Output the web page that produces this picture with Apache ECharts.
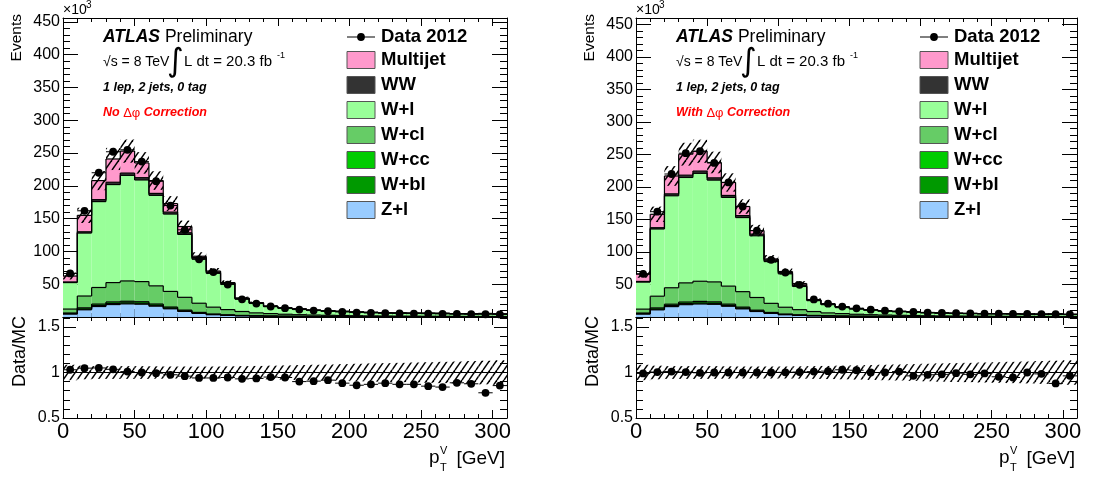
<!DOCTYPE html>
<html>
<head>
<meta charset="utf-8">
<script src="https://cdn.jsdelivr.net/npm/echarts@6/dist/echarts.min.js"></script>
<style>
  html, body { margin: 0; background: #fff; }
  #chart { width: 1094px; height: 477px; }
</style>
</head>
<body>
<div id="chart"></div>
<script>
// p_T^V distribution, 1 lep 2 jets 0 tag, before / after the delta-phi correction
// all event counts are in units of 10^3

const BIN_EDGES = [0, 10, 20, 30, 40, 50, 60, 70, 80, 90, 100, 110, 120, 130, 140, 150,
  160, 170, 180, 190, 200, 210, 220, 230, 240, 250, 260, 270, 280, 290, 300, 310];

const DATA_2012 = [66.4, 162, 220, 252, 255, 237, 207, 170, 133, 88, 68.5, 49.5, 27, 20.5, 16, 13.4,
  11.3, 9.8, 8.8, 7.8, 6.8, 6.3, 5.8, 5.5, 5.2, 5.0, 4.8, 4.6, 4.4, 4.2, 4.0];

// backgrounds shared by both plots
const Z_L = [4.5, 11, 16, 19, 20, 19.5, 16.5, 12.5, 8.5, 5.5, 3.5, 2.5, 1.8, 1.4, 1.1, 0.9,
  0.8, 0.7, 0.6, 0.5, 0.45, 0.4, 0.35, 0.3, 0.3, 0.25, 0.25, 0.2, 0.2, 0.2, 0.2];
const W_BL = [0.6, 1.2, 1.5, 1.6, 1.6, 1.5, 1.3, 1.1, 0.8, 0.6, 0.4, 0.3, 0.2, 0.2, 0.15, 0.1,
  0.1, 0.1, 0.1, 0.1, 0.05, 0.05, 0.05, 0.05, 0.05, 0.05, 0.05, 0.05, 0.05, 0.05, 0.05];
const W_CC = [1, 1.8, 2.2, 2.4, 2.4, 2.3, 2.0, 1.6, 1.2, 0.9, 0.6, 0.5, 0.4, 0.3, 0.25, 0.2,
  0.15, 0.12, 0.1, 0.1, 0.08, 0.07, 0.06, 0.05, 0.05, 0.05, 0.05, 0.04, 0.04, 0.04, 0.04];
const W_CL = [6, 18, 25.3, 29.5, 31, 30.7, 27.7, 23.8, 19.5, 14, 10.5, 8, 6, 4.4, 3.7, 3,
  2.5, 2.1, 1.8, 1.6, 1.4, 1.2, 1.1, 1.0, 0.9, 0.8, 0.75, 0.7, 0.65, 0.6, 0.55];
const WW = [1, 2, 3, 3.5, 3.5, 3.5, 3, 3, 2.5, 2, 1.5, 1.2, 1, 0.8, 0.7, 0.6,
  0.5, 0.45, 0.4, 0.35, 0.3, 0.3, 0.25, 0.25, 0.2, 0.2, 0.2, 0.2, 0.2, 0.2, 0.2];

// no correction
const W_L_NOCORR = [40.4, 96, 131, 149.5, 161, 155, 138, 118, 96, 67.7, 51.6, 39.7, 19.1, 14.4, 10.6, 9.1,
  8.25, 7.0, 6.4, 5.95, 5.4, 5.0, 4.6, 4.5, 4.35, 4.4, 4.25, 3.9, 3.75, 4.2, 3.55];
const MULTIJET_NOCORR = [9, 25, 29, 35.5, 33.5, 22.5, 19.5, 13, 9.5, 2, 2, 0.3, 0.5, 0.4, 0.3, 0.3,
  0.3, 0.3, 0.2, 0.2, 0.2, 0.2, 0.2, 0.15, 0.15, 0.15, 0.15, 0.1, 0.1, 0.1, 0.1];
const RATIO_NOCORR = [1.03, 1.048, 1.05, 1.035, 1.01, 1.0, 0.993, 0.975, 0.96, 0.94, 0.94, 0.945, 0.93, 0.935, 0.95, 0.945,
  0.9, 0.905, 0.916, 0.883, 0.86, 0.87, 0.883, 0.87, 0.87, 0.85, 0.84, 0.887, 0.876, 0.777, 0.856];

// with delta-phi correction
const W_L_CORR = [41.6, 103.4, 141.5, 162.2, 166, 156.6, 136.5, 114, 95, 64.3, 51.4, 35.7, 16.8, 12.7, 9.3, 8.0,
  6.95, 6.0, 5.5, 5.25, 4.5, 4.2, 3.85, 3.8, 3.6, 3.75, 3.65, 3.3, 3.2, 3.6, 3.0];
const MULTIJET_CORR = [11.3, 20.6, 27.5, 32.3, 30.5, 23.6, 20, 14, 5.5, 2.1, 2.1, 3.3, 0.5, 0.4, 0.3, 0.3,
  0.3, 0.3, 0.2, 0.2, 0.2, 0.2, 0.2, 0.15, 0.15, 0.15, 0.15, 0.1, 0.1, 0.1, 0.1];
const RATIO_CORR = [0.99, 1.005, 1.01, 1.005, 0.997, 1.0, 1.0, 1.0, 1.0, 1.0, 1.002, 1.005, 1.01, 1.015, 1.03, 1.025,
  1.0, 1.0, 1.01, 0.963, 0.975, 0.98, 0.993, 0.98, 0.99, 0.953, 0.945, 1.0, 0.985, 0.88, 0.963];

// relative MC uncertainty (hatched band)
const SYST_REL = [0.085, 0.075, 0.07, 0.07, 0.07, 0.07, 0.068, 0.066, 0.066, 0.066, 0.066, 0.068, 0.07, 0.072, 0.075, 0.078,
  0.082, 0.085, 0.088, 0.092, 0.096, 0.1, 0.103, 0.106, 0.11, 0.113, 0.117, 0.12, 0.125, 0.13, 0.135];

// stack order, bottom to top
const SAMPLE_NAMES = ['Z+l', 'W+bl', 'W+cc', 'W+cl', 'W+l', 'WW', 'Multijet'];
const SAMPLE_COLORS = ['#99ccff', '#009900', '#00cc00', '#66cc66', '#99ff99', '#333333', '#ff99cc'];

const FONT = "'Liberation Sans', Arial, Helvetica, sans-serif";
const MAIN_TOP = 18, MAIN_H = 299, RATIO_TOP = 317, RATIO_H = 101;

const PANELS = [
  { left: 63, width: 444, ymax: 456, wl: W_L_NOCORR, mj: MULTIJET_NOCORR, ratio: RATIO_NOCORR, tag: 'No' },
  { left: 636, width: 441, ymax: 460, wl: W_L_CORR, mj: MULTIJET_CORR, ratio: RATIO_CORR, tag: 'With' }
];

function hatchPattern() {
  const c = document.createElement('canvas');
  c.width = 7; c.height = 10;
  const g = c.getContext('2d');
  g.strokeStyle = '#000';
  g.lineWidth = 1.5;
  [-7, 0, 7].forEach(function (dx) {
    g.beginPath();
    g.moveTo(dx, 10);
    g.lineTo(dx + 7, 0);
    g.stroke();
  });
  return { image: c, repeat: 'repeat' };
}
const HATCH = hatchPattern();

function xAx(grid, pos, labels) {
  return {
    type: 'value', gridIndex: grid, position: pos, min: 0, max: 310, interval: 50,
    axisLine: { show: true, onZero: false, lineStyle: { color: '#000', width: 1 } },
    axisTick: { show: true, inside: true, length: 8, lineStyle: { color: '#000' } },
    minorTick: { show: true, splitNumber: 5, length: 4, lineStyle: { color: '#000' } },
    splitLine: { show: false },
    axisLabel: { show: labels, fontSize: 22, color: '#000', margin: 3, fontFamily: FONT, showMaxLabel: false }
  };
}

function yAx(grid, pos, ratio, ymax, labels) {
  return {
    type: 'value', gridIndex: grid, position: pos,
    min: ratio ? 0.5 : 0, max: ratio ? 1.61 : ymax, interval: ratio ? 0.5 : 50,
    axisLine: { show: true, onZero: false, lineStyle: { color: '#000', width: 1 } },
    axisTick: { show: true, inside: true, length: ratio ? 13 : 15, lineStyle: { color: '#000' } },
    minorTick: { show: true, splitNumber: 5, length: 7, lineStyle: { color: '#000' } },
    splitLine: { show: false },
    axisLabel: {
      show: labels, fontSize: 16, color: '#000', margin: 3, fontFamily: FONT,
      showMinLabel: ratio, showMaxLabel: false
    }
  };
}

function rectItem(fill) {
  return function (params, api) {
    const a = api.coord([api.value(0), api.value(3)]);
    const b = api.coord([api.value(1), api.value(2)]);
    return {
      type: 'rect',
      shape: { x: a[0], y: a[1], width: b[0] - a[0], height: b[1] - a[1] },
      style: { fill: fill || api.visual('color') }
    };
  };
}

function stepItem(params, api) {
  const a = api.coord([api.value(0), api.value(2)]);
  const b = api.coord([api.value(1), api.value(2)]);
  const c = api.coord([api.value(1), api.value(3)]);
  const st = { stroke: '#000', lineWidth: 1.2 };
  return {
    type: 'group',
    children: [
      { type: 'line', shape: { x1: a[0], y1: a[1], x2: b[0], y2: b[1] }, style: st },
      { type: 'line', shape: { x1: b[0], y1: b[1], x2: c[0], y2: c[1] }, style: st }
    ]
  };
}

function pointItem(params, api) {
  const a = api.coord([api.value(0), api.value(2)]);
  const b = api.coord([api.value(1), api.value(2)]);
  return {
    type: 'group',
    children: [
      { type: 'line', shape: { x1: a[0], y1: a[1], x2: b[0], y2: b[1] }, style: { stroke: '#000', lineWidth: 1 } },
      { type: 'circle', shape: { cx: (a[0] + b[0]) / 2, cy: a[1], r: 3.9 }, style: { fill: '#000' } }
    ]
  };
}

const grids = [], xAxes = [], yAxes = [], series = [], graphics = [];
const nBins = DATA_2012.length;
const bins = DATA_2012.map(function (d, i) { return i; });

PANELS.forEach(function (p, pi) {
  const gm = 2 * pi, gr = 2 * pi + 1;
  grids.push({ left: p.left, top: MAIN_TOP, width: p.width, height: MAIN_H });
  grids.push({ left: p.left, top: RATIO_TOP, width: p.width, height: RATIO_H });
  xAxes.push(xAx(gm, 'bottom', false), xAx(gm, 'top', false), xAx(gr, 'bottom', true), xAx(gr, 'top', false));
  yAxes.push(yAx(gm, 'left', false, p.ymax, true), yAx(gm, 'right', false, p.ymax, false),
    yAx(gr, 'left', true, 0, true), yAx(gr, 'right', true, 0, false));
  const mainAx = { xAxisIndex: 2 * gm, yAxisIndex: 2 * gm };
  const ratioAx = { xAxisIndex: 2 * gr, yAxisIndex: 2 * gr };

  // stacked MC
  const comps = [Z_L, W_BL, W_CC, W_CL, p.wl, WW, p.mj];
  let below = bins.map(function () { return 0; });
  const steps = [];
  comps.forEach(function (c, k) {
    const top = below.map(function (b, i) { return b + c[i]; });
    series.push(Object.assign({
      type: 'custom', name: SAMPLE_NAMES[k], z: 2, renderItem: rectItem(),
      itemStyle: { color: SAMPLE_COLORS[k] },
      data: bins.map(function (i) { return [BIN_EDGES[i], BIN_EDGES[i + 1], below[i], top[i]]; })
    }, mainAx));
    bins.forEach(function (i) {
      steps.push([BIN_EDGES[i], BIN_EDGES[i + 1], top[i], i + 1 < nBins ? top[i + 1] : top[i]]);
    });
    below = top;
  });
  const total = below;
  series.push(Object.assign({ type: 'custom', z: 3, renderItem: stepItem, data: steps }, mainAx));

  // MC uncertainty band
  series.push(Object.assign({
    type: 'custom', z: 4, renderItem: rectItem(HATCH),
    data: bins.map(function (i) {
      return [BIN_EDGES[i], BIN_EDGES[i + 1], total[i] * (1 - SYST_REL[i]), total[i] * (1 + SYST_REL[i])];
    })
  }, mainAx));
  series.push(Object.assign({
    type: 'custom', name: 'Data 2012', z: 5, renderItem: pointItem,
    data: bins.map(function (i) { return [BIN_EDGES[i], BIN_EDGES[i + 1], DATA_2012[i]]; })
  }, mainAx));

  // ratio panel
  series.push(Object.assign({
    type: 'custom', z: 4, renderItem: rectItem(HATCH),
    data: bins.map(function (i) { return [BIN_EDGES[i], BIN_EDGES[i + 1], 1 - SYST_REL[i], 1 + SYST_REL[i]]; })
  }, ratioAx));
  series.push(Object.assign({
    type: 'custom', z: 5, renderItem: pointItem,
    data: bins.map(function (i) { return [BIN_EDGES[i], BIN_EDGES[i + 1], p.ratio[i]]; }),
    markLine: {
      silent: true, symbol: ['none', 'none'], label: { show: false }, animation: false,
      lineStyle: { color: '#000', width: 1, type: 'solid' }, data: [{ yAxis: 1 }]
    }
  }, ratioAx));

  // texts and legend
  const dx = p.left - 63;
  const right = p.left + p.width;
  const txt = function (x, y, text, extra) {
    return {
      type: 'text', x: x, y: y, z: 10,
      style: Object.assign({ text: text, fill: '#000', fontFamily: FONT, fontSize: 14, verticalAlign: 'middle' }, extra || {})
    };
  };
  graphics.push(
    txt(63 + dx, 10, '×10', { fontSize: 14 }),
    txt(86 + dx, 5, '3', { fontSize: 10 }),
    Object.assign(txt(17 + dx, 14, 'Events', { fontSize: 15.5, align: 'right' }), { rotation: Math.PI / 2 }),
    Object.assign(txt(20 + dx, 316, 'Data/MC', { fontSize: 18, align: 'right' }), { rotation: Math.PI / 2 }),
    txt(right - 78, 458, 'p', { fontSize: 19 }),
    txt(right - 67, 451, 'V', { fontSize: 11 }),
    txt(right - 67, 468, 'T', { fontSize: 11 }),
    txt(right - 2, 459, '[GeV]', { fontSize: 19, align: 'right' }),
    txt(103 + dx, 37, '{b|ATLAS} Preliminary', {
      fontSize: 17.5,
      rich: { b: { fontSize: 17.5, fontWeight: 'bold', fontStyle: 'italic', fontFamily: FONT, fill: '#000' } }
    }),
    txt(103 + dx, 62, '√s = 8 TeV', { fontSize: 14 }),
    txt(167 + dx, 63, '∫', { fontSize: 32, fontFamily: "'DejaVu Sans', sans-serif" }),
    txt(184 + dx, 62, 'L dt = 20.3 fb', { fontSize: 15 }),
    txt(277 + dx, 56, '-1', { fontSize: 9 }),
    txt(103 + dx, 88, '1 lep, 2 jets, 0 tag', { fontSize: 12.5, fontWeight: 'bold', fontStyle: 'italic' }),
    txt(103 + dx, 113, p.tag + ' {g|Δφ} Correction', {
      fontSize: 12.5, fontWeight: 'bold', fontStyle: 'italic', fill: '#ff0000',
      rich: { g: { fontSize: 13, fontWeight: 'normal', fontStyle: 'normal', fontFamily: FONT, fill: '#ff0000' } }
    })
  );

  // legend: Data first, then stack top to bottom
  const lx = 347 + dx;
  graphics.push(
    { type: 'line', z: 10, shape: { x1: lx, y1: 37, x2: lx + 28, y2: 37 }, style: { stroke: '#000', lineWidth: 1 } },
    { type: 'circle', z: 10, shape: { cx: lx + 14, cy: 37, r: 3.9 }, style: { fill: '#000' } },
    txt(lx + 34, 37, 'Data 2012', { fontSize: 18.5, fontWeight: 'bold' })
  );
  for (let k = SAMPLE_NAMES.length - 1, row = 0; k >= 0; k--, row++) {
    const cy = 60 + row * 25;
    graphics.push(
      { type: 'rect', z: 10, shape: { x: lx, y: cy - 8.5, width: 28, height: 17 },
        style: { fill: SAMPLE_COLORS[k], stroke: '#555', lineWidth: 1 } },
      txt(lx + 34, cy, SAMPLE_NAMES[k], { fontSize: 18.5, fontWeight: 'bold' })
    );
  }
});

const chart = echarts.init(document.getElementById('chart'), null, { renderer: 'canvas' });
chart.setOption({
  animation: false,
  backgroundColor: '#fff',
  grid: grids,
  xAxis: xAxes,
  yAxis: yAxes,
  series: series,
  graphic: graphics
});
</script>
</body>
</html>
